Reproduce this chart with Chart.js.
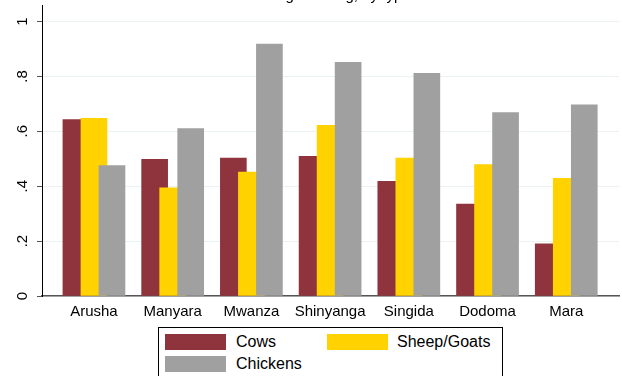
<!DOCTYPE html>
<html>
<head>
<meta charset="utf-8">
<script src="https://cdn.jsdelivr.net/npm/chart.js@4.4.0/dist/chart.umd.min.js"></script>
<style>
html, body { margin: 0; padding: 0; background: #fff; }
#wrap { position: relative; width: 622px; height: 376px; overflow: hidden; }
#c { position: absolute; left: 0; top: 0; }
#legend {
  position: absolute; left: 158px; top: 327px; width: 345px; height: 60px;
  border: 1px solid #000; box-sizing: border-box; background: #fff;
  font-family: "Liberation Sans", Arial, sans-serif; font-size: 16px; color: #000;
}
#legend .sw { position: absolute; width: 61px; height: 16px; }
#legend .lb { position: absolute; line-height: 16px; white-space: nowrap; }
</style>
</head>
<body>
<div id="wrap">
  <canvas id="c" width="622" height="376"></canvas>
  <div id="legend"></div>
</div>
<script>
// data
var titleText = "Percentage owning, by type";
var regions = ["Arusha", "Manyara", "Mwanza", "Shinyanga", "Singida", "Dodoma", "Mara"];
var cows = [0.643, 0.498, 0.502, 0.509, 0.418, 0.335, 0.190];
var sheepGoats = [0.647, 0.394, 0.451, 0.622, 0.502, 0.479, 0.429];
var chickens = [0.475, 0.610, 0.918, 0.851, 0.811, 0.668, 0.696];
var seriesNames = ["Cows", "Sheep/Goats", "Chickens"];
var seriesColors = ["#8f343c", "#ffd200", "#a0a0a0"];
var yTicks = [0, 0.2, 0.4, 0.6, 0.8, 1];
var yTickLabels = ["0", ".2", ".4", ".6", ".8", "1"];

var FONT = '"Liberation Sans", Arial, sans-serif';

// bars of a group overlap a little, like the stata output
function toPoints(vals, shift) {
  return vals.map(function (v, i) { return { x: i + shift, y: v }; });
}

var cutTitle = {
  id: 'cutTitle',
  afterDraw: function (chart) {
    var ctx = chart.ctx;
    ctx.save();
    ctx.font = '15px ' + FONT;
    ctx.fillStyle = '#000';
    ctx.textAlign = 'center';
    ctx.textBaseline = 'alphabetic';
    ctx.fillText(titleText, 318, 0);
    ctx.restore();
  }
};

var allSeries = [cows, sheepGoats, chickens];
var shifts = [-0.229, 0, 0.229];
var datasets = allSeries.map(function (vals, k) {
  return {
    label: seriesNames[k],
    data: toPoints(vals, shifts[k]),
    backgroundColor: seriesColors[k],
    borderWidth: 0,
    barThickness: 26,
    grouped: false,
    order: 2 - k
  };
});

new Chart(document.getElementById("c"), {
  type: 'bar',
  data: { datasets: datasets },
  plugins: [cutTitle],
  options: {
    responsive: false,
    animation: false,
    events: [],
    layout: { padding: { left: 0, right: 3, top: 5, bottom: 50 } },
    plugins: { legend: { display: false }, tooltip: { enabled: false } },
    scales: {
      x: {
        type: 'linear',
        offset: false,
        min: -0.66,
        max: 6.67,
        afterBuildTicks: function (scale) {
          scale.ticks = regions.map(function (r, i) { return { value: i }; });
        },
        afterFit: function (scale) {
          scale.height = 30;
          scale.paddingLeft = 0;
          scale.paddingRight = 0;
        },
        ticks: {
          autoSkip: false,
          maxRotation: 0,
          padding: 7,
          color: '#000',
          font: { family: FONT, size: 15 },
          callback: function (v) { return regions[v]; }
        },
        grid: { display: false, drawTicks: false, offset: false },
        border: { display: true, color: '#555', width: 1.5 }
      },
      y: {
        min: 0,
        max: 1.06,
        afterBuildTicks: function (scale) {
          scale.ticks = yTicks.map(function (v) { return { value: v }; });
        },
        afterFit: function (scale) {
          scale.width = 42;
          scale.paddingTop = 0;
          scale.paddingBottom = 0;
        },
        ticks: {
          minRotation: 90,
          maxRotation: 90,
          crossAlign: 'center',
          padding: 8,
          color: '#000',
          font: { family: FONT, size: 15 },
          callback: function (v, i) { return yTickLabels[i]; }
        },
        grid: { color: '#eaf2f3', lineWidth: 1, tickLength: 5, tickColor: '#555' },
        border: { display: true, color: '#000', width: 1 }
      }
    }
  }
});

// legend box: two columns, stata style
var legendPos = [[6, 6, 77], [168, 6, 238], [6, 28, 77]];
var legend = document.getElementById("legend");
seriesNames.forEach(function (name, k) {
  var sw = document.createElement("div");
  sw.className = "sw";
  sw.style.left = legendPos[k][0] + "px";
  sw.style.top = legendPos[k][1] + "px";
  sw.style.background = seriesColors[k];
  legend.appendChild(sw);
  var lb = document.createElement("div");
  lb.className = "lb";
  lb.style.left = legendPos[k][2] + "px";
  lb.style.top = legendPos[k][1] + "px";
  lb.textContent = name;
  legend.appendChild(lb);
});
</script>
</body>
</html>
